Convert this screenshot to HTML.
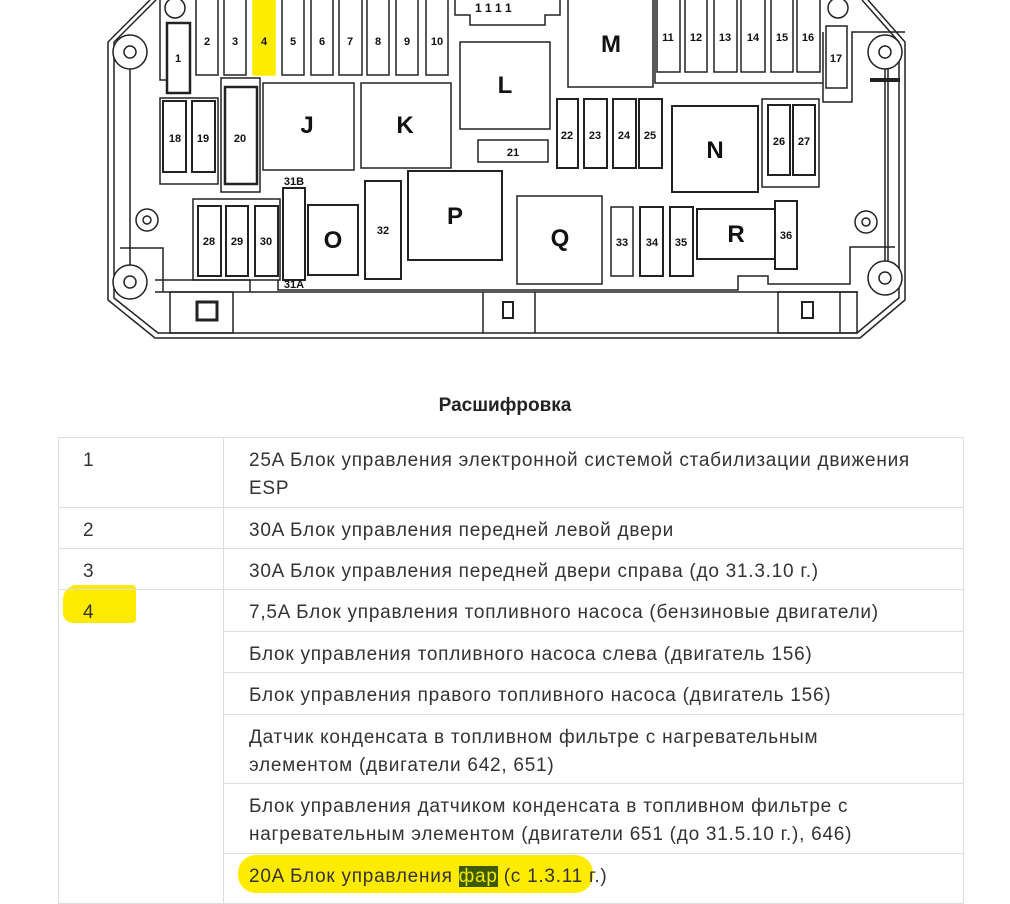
<!DOCTYPE html>
<html><head><meta charset="utf-8"><style>
html,body{margin:0;padding:0;background:#fff;width:1010px;height:896px;overflow:hidden}
svg text{font-family:"Liberation Sans",sans-serif;font-weight:bold;fill:#111}
.h{position:absolute;left:0;width:1010px;top:395px;text-align:center;font:bold 19px "Liberation Sans","Noto Sans CJK SC",sans-serif;color:#222}
table{position:absolute;left:58px;top:437px;width:906px;border-collapse:collapse;table-layout:fixed;font:19px "Liberation Sans","Noto Sans CJK SC",sans-serif;color:#333}
td{border:1px solid #ddd;vertical-align:top;padding:9px 50px 0 25px;line-height:28px;letter-spacing:0.75px}
td.n{padding-left:24px;padding-right:0}
.hl{position:absolute;background:#ffeb00;border-radius:8px}
.g{background:#3d5a00;color:#f0e800}
</style></head><body>
<svg width="1010" height="380" style="position:absolute;left:0;top:0" stroke="#222" fill="none" stroke-width="1.5">
<path d="M150 0 L108 42 L108 300 L155 338 L860 338 L905 300 L905 42 L868 0"/>
<path d="M156 0 L114 42 L114 298 L158 333 L857 333 L899 298 L899 42 L862 0"/>
<line x1="130" y1="52" x2="130" y2="282"/><line x1="885" y1="52" x2="885" y2="278"/><line x1="888" y1="52" x2="888" y2="278"/>
<g fill="#fff"><circle cx="130" cy="52" r="17"/><circle cx="130" cy="282" r="17"/><circle cx="885" cy="52" r="17"/><circle cx="885" cy="278" r="17"/><circle cx="147" cy="220" r="11"/><circle cx="866" cy="222" r="11"/><circle cx="175" cy="8" r="10"/><circle cx="838" cy="8" r="10"/></g>
<circle cx="130" cy="52" r="6"/><circle cx="130" cy="282" r="6"/><circle cx="885" cy="52" r="6"/><circle cx="885" cy="278" r="6"/><circle cx="147" cy="220" r="4"/><circle cx="866" cy="222" r="4"/>
<path d="M155 292 L858 292"/><path d="M155 280 L250 280 L250 292"/><path d="M120 248 L163 248 L163 292"/>
<rect x="170" y="292" width="63" height="41"/><rect x="197" y="302" width="20" height="18" stroke-width="3"/>
<line x1="483" y1="292" x2="483" y2="333"/><line x1="535" y1="292" x2="535" y2="333"/><rect x="503" y="302" width="10" height="16" stroke-width="2"/>
<rect x="778" y="292" width="79" height="41"/><line x1="840" y1="292" x2="840" y2="333"/><rect x="802" y="302" width="11" height="16" stroke-width="2"/>
<path d="M278 280 L278 290 L738 290 L738 276 L768 276 L768 284 L850 284 L850 247 L895 247"/>
<path d="M823 32 L823 102 L852 102 L852 32 L905 32"/><line x1="870" y1="80" x2="900" y2="80" stroke-width="4"/>
<path d="M455 0 L455 15 L470 15 L470 25 L545 25 L545 15 L560 15 L560 0"/>
<text x="475" y="12" font-size="12" stroke="none">1 1 1 1</text>
<rect x="167" y="23" width="23" height="70" stroke-width="2.5"/><path d="M160 0 V80 H167"/>
<rect x="253" y="0" width="22" height="75" fill="#ffeb00" stroke="#ffeb00"/>
<g><rect x="196" y="-2" width="22" height="77"/><rect x="224" y="-2" width="22" height="77"/><rect x="282" y="-2" width="22" height="77"/><rect x="311" y="-2" width="22" height="77"/><rect x="339" y="-2" width="23" height="77"/><rect x="367" y="-2" width="22" height="77"/><rect x="396" y="-2" width="22" height="77"/><rect x="426" y="-2" width="22" height="77"/>
<rect x="657" y="-2" width="23" height="74"/><rect x="685" y="-2" width="22" height="74"/><rect x="714" y="-2" width="23" height="74"/><rect x="741" y="-2" width="24" height="74"/><rect x="771" y="-2" width="22" height="74"/><rect x="797" y="-2" width="23" height="74"/>
<path d="M655 0 V83 H823"/><rect x="826" y="26" width="21" height="62"/>
<rect x="160" y="98" width="58" height="86"/><rect x="163" y="101" width="23" height="71" stroke-width="2"/><rect x="192" y="101" width="23" height="71" stroke-width="2"/>
<rect x="221" y="78" width="39" height="114"/><rect x="225" y="87" width="32" height="97" stroke-width="2.5"/>
<rect x="263" y="83" width="91" height="87"/><rect x="361" y="83" width="90" height="85"/>
<rect x="460" y="42" width="90" height="87"/><rect x="478" y="140" width="70" height="22"/>
<rect x="568" y="-2" width="85" height="89"/>
<rect x="557" y="99" width="21" height="69" stroke-width="2"/><rect x="584" y="99" width="23" height="69" stroke-width="2"/><rect x="613" y="99" width="23" height="69" stroke-width="2"/><rect x="639" y="99" width="23" height="69" stroke-width="2"/>
<rect x="672" y="106" width="86" height="86" stroke-width="2"/>
<rect x="762" y="99" width="57" height="88"/><rect x="768" y="105" width="22" height="70" stroke-width="2"/><rect x="793" y="105" width="22" height="70" stroke-width="2"/>
<rect x="193" y="199" width="87" height="81"/><rect x="198" y="206" width="23" height="70" stroke-width="2"/><rect x="226" y="206" width="22" height="70" stroke-width="2"/><rect x="255" y="206" width="23" height="70" stroke-width="2"/>
<rect x="283" y="188" width="22" height="92" stroke-width="2"/>
<rect x="308" y="205" width="50" height="70" stroke-width="2"/><rect x="365" y="181" width="36" height="98" stroke-width="2"/>
<rect x="408" y="171" width="94" height="89" stroke-width="2"/><rect x="517" y="196" width="85" height="88"/>
<rect x="611" y="207" width="22" height="69"/><rect x="640" y="207" width="23" height="69" stroke-width="2"/><rect x="670" y="207" width="23" height="69" stroke-width="2"/>
<rect x="697" y="209" width="78" height="50" stroke-width="2"/><rect x="775" y="201" width="22" height="68" stroke-width="2"/>
</g>
<g stroke="none" font-size="11" text-anchor="middle">
<text x="178" y="62">1</text><text x="207" y="45">2</text><text x="235" y="45">3</text><text x="264" y="45">4</text><text x="293" y="45">5</text><text x="322" y="45">6</text><text x="350" y="45">7</text><text x="378" y="45">8</text><text x="407" y="45">9</text><text x="437" y="45">10</text>
<text x="668" y="41">11</text><text x="696" y="41">12</text><text x="725" y="41">13</text><text x="753" y="41">14</text><text x="782" y="41">15</text><text x="808" y="41">16</text><text x="836" y="62">17</text>
<text x="175" y="142">18</text><text x="203" y="142">19</text><text x="240" y="142">20</text><text x="513" y="156">21</text>
<text x="567" y="139">22</text><text x="595" y="139">23</text><text x="624" y="139">24</text><text x="650" y="139">25</text><text x="779" y="145">26</text><text x="804" y="145">27</text>
<text x="209" y="245">28</text><text x="237" y="245">29</text><text x="266" y="245">30</text><text x="294" y="185">31B</text><text x="294" y="288">31A</text><text x="383" y="234">32</text>
<text x="622" y="246">33</text><text x="652" y="246">34</text><text x="681" y="246">35</text><text x="786" y="239">36</text>
</g>
<g stroke="none" font-size="24" text-anchor="middle">
<text x="307" y="133">J</text><text x="405" y="133">K</text><text x="505" y="93">L</text><text x="611" y="52">M</text><text x="715" y="158">N</text><text x="333" y="248">O</text><text x="455" y="224">P</text><text x="560" y="246">Q</text><text x="736" y="242">R</text>
</g>
</svg>
<div class="h">Расшифровка</div>
<div class="hl" style="left:63px;top:585px;width:73px;height:38px;border-radius:14px 4px 4px 10px"></div>
<div class="hl" style="left:238px;top:855px;width:355px;height:38px;border-radius:18px"></div>
<table>
<colgroup><col style="width:165px"><col></colgroup>
<tr style="height:70px"><td class="n">1</td><td>25A Блок управления электронной системой стабилизации движения ESP</td></tr>
<tr style="height:41px"><td class="n">2</td><td>30A Блок управления передней левой двери</td></tr>
<tr style="height:41px"><td class="n">3</td><td>30A Блок управления передней двери справа (до 31.3.10 г.)</td></tr>
<tr style="height:42px"><td class="n" rowspan="6">4</td><td>7,5A Блок управления топливного насоса (бензиновые двигатели)</td></tr>
<tr style="height:41px"><td>Блок управления топливного насоса слева (двигатель 156)</td></tr>
<tr style="height:42px"><td>Блок управления правого топливного насоса (двигатель 156)</td></tr>
<tr style="height:69px"><td>Датчик конденсата в топливном фильтре с нагревательным элементом (двигатели 642, 651)</td></tr>
<tr style="height:70px"><td>Блок управления датчиком конденсата в топливном фильтре с нагревательным элементом (двигатели 651 (до 31.5.10 г.), 646)</td></tr>
<tr style="height:50px"><td>20A Блок управления <span class="g">фар</span> (с 1.3.11 г.)</td></tr>
</table>
</body></html>
